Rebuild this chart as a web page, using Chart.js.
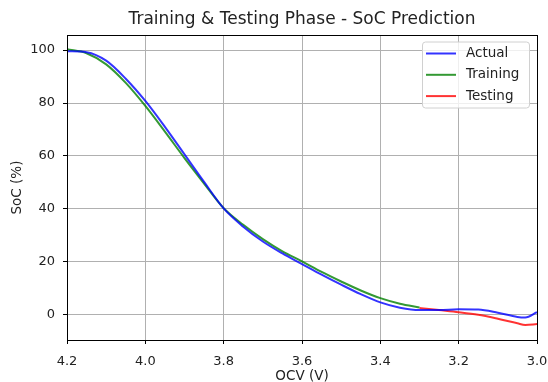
<!DOCTYPE html>
<html>
<head>
<meta charset="utf-8">
<script src="https://cdn.jsdelivr.net/npm/chart.js@4/dist/chart.umd.min.js"></script>
<style>
    html, body { margin: 0; padding: 0; background: #fff; }
    #wrap { width: 548px; height: 382px; }
</style>
</head>
<body>
<div id="wrap"><canvas id="socChart"></canvas></div>
<script>
// OCV sample points (V) and SoC readings (%)
const actualOcv = [4.20, 4.15, 4.10, 4.05, 4.00, 3.95, 3.90, 3.85, 3.80, 3.75, 3.70, 3.65, 3.60, 3.55, 3.50, 3.45, 3.40, 3.35, 3.30, 3.25, 3.20, 3.15, 3.10, 3.05, 3.03, 3.00];
const actualSoc = [99.6, 99.2, 96.0, 89.2, 80.8, 71.0, 60.6, 50.2, 40.2, 33.3, 27.7, 23.2, 19.2, 15.2, 11.4, 7.8, 4.7, 2.7, 1.8, 1.8, 2.1, 2.0, 0.8, -0.8, -1.0, 1.0];

const trainOcv = [4.20, 4.15, 4.10, 4.05, 4.00, 3.95, 3.90, 3.85, 3.80, 3.75, 3.70, 3.65, 3.60, 3.55, 3.50, 3.45, 3.40, 3.35, 3.30];
const trainSoc = [100.3, 98.8, 94.6, 87.6, 78.9, 69.2, 59.2, 49.6, 40.3, 34.0, 28.6, 24.0, 20.2, 16.2, 12.6, 9.2, 6.3, 4.2, 2.8];

const testOcv = [3.30, 3.25, 3.20, 3.15, 3.10, 3.05, 3.03, 3.00];
const testSoc = [2.6, 1.8, 1.0, 0.0, -1.5, -3.2, -3.8, -3.5];

const xTicks = [4.2, 4.0, 3.8, 3.6, 3.4, 3.2, 3.0];
const yTicks = [0, 20, 40, 60, 80, 100];

const chartTitle = 'Training & Testing Phase - SoC Prediction';
const FONT = "'DejaVu Sans', sans-serif";

function toPoints(xs, ys) {
    return xs.map((x, i) => ({ x: x, y: ys[i] }));
}

// title centred over the plot area rather than the whole canvas
const plotTitle = {
    id: 'plotTitle',
    afterDraw(chart) {
        const ctx = chart.ctx;
        const a = chart.chartArea;
        ctx.save();
        ctx.font = '17px ' + FONT;
        ctx.fillStyle = '#222';
        ctx.textAlign = 'center';
        ctx.textBaseline = 'middle';
        ctx.fillText(chartTitle, (a.left + a.right) / 2, 20);
        ctx.restore();
    }
};

// legend box drawn inside the plot, top right
const innerLegend = {
    id: 'innerLegend',
    afterDraw(chart) {
        const ctx = chart.ctx;
        const area = chart.chartArea;
        const w = 107, h = 66;
        const x0 = area.right - 8 - w;
        const y0 = area.top + 6.5;
        ctx.save();
        ctx.fillStyle = 'rgba(255,255,255,0.8)';
        ctx.strokeStyle = '#d0d0d0';
        ctx.lineWidth = 1;
        ctx.beginPath();
        ctx.roundRect(x0 + 0.5, y0 + 0.5, w, h, 3);
        ctx.fill();
        ctx.stroke();
        ctx.font = '13.5px ' + FONT;
        ctx.textBaseline = 'middle';
        chart.data.datasets.forEach((ds, i) => {
            const y = y0 + 12 + i * 21.3;
            ctx.strokeStyle = ds.borderColor;
            ctx.lineWidth = 2;
            ctx.beginPath();
            ctx.moveTo(x0 + 4, y);
            ctx.lineTo(x0 + 34, y);
            ctx.stroke();
            ctx.fillStyle = '#222';
            ctx.fillText(ds.label, x0 + 44, y);
        });
        ctx.restore();
    }
};

// black frame around the plot area
const frame = {
    id: 'frame',
    afterDraw(chart) {
        const ctx = chart.ctx;
        const a = chart.chartArea;
        ctx.save();
        ctx.strokeStyle = '#000';
        ctx.lineWidth = 1;
        ctx.strokeRect(Math.round(a.left) + 0.5, Math.round(a.top) + 0.5, Math.round(a.right - a.left), Math.round(a.bottom - a.top));
        ctx.restore();
    }
};

const lineStyle = {
    borderWidth: 2,
    pointRadius: 0,
    fill: false,
    cubicInterpolationMode: 'monotone'
};

new Chart(document.getElementById('socChart'), {
    type: 'line',
    data: {
        datasets: [
            Object.assign({ label: 'Actual', data: toPoints(actualOcv, actualSoc), borderColor: 'rgba(0,0,255,0.8)' }, lineStyle),
            Object.assign({ label: 'Training', data: toPoints(trainOcv, trainSoc), borderColor: 'rgba(0,128,0,0.8)' }, lineStyle),
            Object.assign({ label: 'Testing', data: toPoints(testOcv, testSoc), borderColor: 'rgba(255,0,0,0.8)' }, lineStyle)
        ]
    },
    options: {
        responsive: true,
        maintainAspectRatio: false,
        animation: false,
        layout: { padding: { left: 0, right: 11, top: 35, bottom: 0 } },
        plugins: {
            legend: { display: false },
            tooltip: { enabled: false },
            title: { display: false }
        },
        scales: {
            x: {
                type: 'linear',
                reverse: true,
                min: 3.0,
                max: 4.2,
                afterBuildTicks: s => { s.ticks = xTicks.map(v => ({ value: v })); },
                afterFit: s => { s.height = 42; s.paddingLeft = 0; s.paddingRight = 0; },
                ticks: {
                    color: '#222',
                    font: { family: FONT, size: 13 },
                    padding: 10,
                    maxRotation: 0,
                    callback: v => v.toFixed(1)
                },
                grid: { color: '#b0b0b0', lineWidth: 1, tickLength: 4, tickColor: '#000' },
                border: { display: false },
                title: {
                    display: true,
                    text: 'OCV (V)',
                    color: '#222',
                    font: { family: FONT, size: 13.5 },
                    padding: { top: 0, bottom: -3 }
                }
            },
            y: {
                min: -9.5,
                max: 105.7,
                afterBuildTicks: s => { s.ticks = yTicks.map(v => ({ value: v })); },
                afterFit: s => { s.width = 67; s.paddingTop = 0; s.paddingBottom = 0; },
                ticks: {
                    color: '#222',
                    font: { family: FONT, size: 13 },
                    padding: 8
                },
                grid: { color: '#b0b0b0', lineWidth: 1, tickLength: 4, tickColor: '#000' },
                border: { display: false },
                title: {
                    display: true,
                    text: 'SoC (%)',
                    color: '#222',
                    font: { family: FONT, size: 13.5 },
                    padding: { top: 9, bottom: 0 }
                }
            }
        }
    },
    plugins: [frame, innerLegend, plotTitle]
});
</script>
</body>
</html>
